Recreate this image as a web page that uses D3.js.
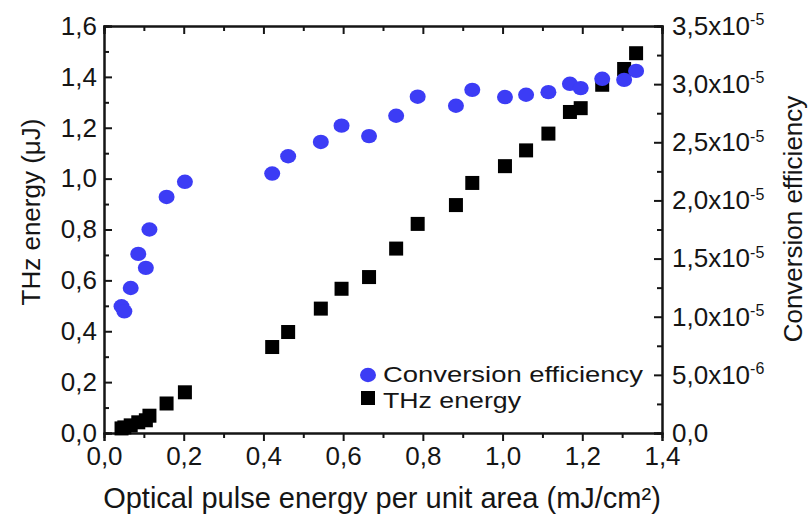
<!DOCTYPE html>
<html>
<head>
<meta charset="utf-8">
<script src="https://cdn.jsdelivr.net/npm/d3@7"></script>
<style>
  body { margin: 0; background: #fff; }
  svg text { font-family: "Liberation Sans", Arial, sans-serif; fill: #151515; }
</style>
</head>
<body>
<div id="chart"></div>
<script>
// optical pulse energy per unit area (mJ/cm2), same for both series
const pulseEnergy = [0.044, 0.051, 0.067, 0.086, 0.105, 0.114, 0.157, 0.203, 0.422, 0.462, 0.544, 0.596, 0.665,
    0.733, 0.787, 0.883, 0.924, 1.006, 1.059, 1.115, 1.169, 1.196, 1.250, 1.305, 1.335];
// THz energy (uJ)
const thzEnergy = [0.018, 0.022, 0.030, 0.042, 0.050, 0.068, 0.116, 0.160, 0.338, 0.397, 0.489, 0.567, 0.613,
    0.725, 0.822, 0.896, 0.983, 1.049, 1.111, 1.177, 1.262, 1.277, 1.369, 1.431, 1.493];
// conversion efficiency (x1e-5)
const efficiency = [1.090, 1.046, 1.247, 1.540, 1.420, 1.750, 2.030, 2.160, 2.231, 2.380, 2.503, 2.643, 2.553,
    2.728, 2.892, 2.814, 2.951, 2.889, 2.909, 2.931, 3.003, 2.966, 3.046, 3.037, 3.114].map(v => v * 1e-5);

const xTicks = [0, 0.2, 0.4, 0.6, 0.8, 1.0, 1.2, 1.4];
const yLeftTicks = [0, 0.2, 0.4, 0.6, 0.8, 1.0, 1.2, 1.4, 1.6];
const yRightTicks = [0, 0.5e-5, 1.0e-5, 1.5e-5, 2.0e-5, 2.5e-5, 3.0e-5, 3.5e-5];
const legendLabels = ["Conversion efficiency", "THz energy"];

const w = 810, h = 518;
const m = { left: 104, right: 148, top: 26, bottom: 85 };
const blue = "#3c3cf5";

const svg = d3.select("#chart").append("svg").attr("width", w).attr("height", h);

const x = d3.scaleLinear().domain([0, 1.4]).range([m.left, w - m.right]);
const yL = d3.scaleLinear().domain([0, 1.6]).range([h - m.bottom, m.top]);
const yR = d3.scaleLinear().domain([0, 3.5e-5]).range([h - m.bottom, m.top]);

const comma = d => d3.format(".1f")(d).replace(".", ",");
const minor = (a, b, step) => d3.range(a, b + step / 2, step).filter(v => Math.abs(Math.round(v / (2 * step)) * 2 * step - v) > step / 10);

const styleAxis = g => {
    g.select(".domain").attr("stroke", "#151515").attr("stroke-width", 2);
    g.selectAll(".tick line").attr("stroke", "#151515").attr("stroke-width", 2);
};

// minor ticks
svg.append("g").attr("transform", `translate(0,${h - m.bottom})`)
    .call(d3.axisBottom(x).tickValues(minor(0, 1.4, 0.1)).tickFormat("").tickSize(5)).call(styleAxis);
svg.append("g").attr("transform", `translate(0,${m.top})`)
    .call(d3.axisTop(x).tickValues(minor(0, 1.4, 0.1)).tickFormat("").tickSize(-5)).call(styleAxis);
svg.append("g").attr("transform", `translate(${m.left},0)`)
    .call(d3.axisLeft(yL).tickValues(minor(0, 1.6, 0.1)).tickFormat("").tickSize(-5)).call(styleAxis);
svg.append("g").attr("transform", `translate(${w - m.right},0)`)
    .call(d3.axisRight(yR).tickValues(minor(0, 3.5e-5, 0.25e-5)).tickFormat("").tickSize(-5)).call(styleAxis);

// major axes
svg.append("g").attr("transform", `translate(0,${h - m.bottom})`)
    .call(d3.axisBottom(x).tickValues(xTicks).tickFormat(comma).tickSize(8).tickPadding(6))
    .call(styleAxis)
    .selectAll("text").style("font-size", "26px");
svg.append("g").attr("transform", `translate(0,${m.top})`)
    .call(d3.axisTop(x).tickValues(xTicks).tickFormat("").tickSize(-8)).call(styleAxis);
svg.append("g").attr("transform", `translate(${m.left},0)`)
    .call(d3.axisLeft(yL).tickValues(yLeftTicks).tickFormat(comma).tickSize(-8).tickPadding(7))
    .call(styleAxis)
    .selectAll("text").style("font-size", "26px");

const right = svg.append("g").attr("transform", `translate(${w - m.right},0)`)
    .call(d3.axisRight(yR).tickValues(yRightTicks).tickSize(-8).tickPadding(10))
    .call(styleAxis);
right.selectAll(".tick text").style("font-size", "26px").each(function (d) {
    const t = d3.select(this).text("");
    if (d === 0) { t.text("0,0"); return; }
    const exp = Math.floor(Math.log10(d) + 1e-9);
    const mant = d / Math.pow(10, exp);
    t.append("tspan").text(comma(mant) + "x10");
    t.append("tspan").attr("dy", "-0.6em").style("font-size", "16px").text(exp);
});

// series: squares first, circles on top
const sq = 14;
svg.append("g").selectAll("rect")
    .data(pulseEnergy.map((p, i) => [p, thzEnergy[i]]))
    .join("rect")
    .attr("x", d => x(d[0]) - sq / 2)
    .attr("y", d => yL(d[1]) - sq / 2)
    .attr("width", sq).attr("height", sq)
    .attr("fill", "#000");

svg.append("g").selectAll("ellipse")
    .data(pulseEnergy.map((p, i) => [p, efficiency[i]]))
    .join("ellipse")
    .attr("cx", d => x(d[0]))
    .attr("cy", d => yR(d[1]))
    .attr("rx", 8).attr("ry", 7.2)
    .attr("fill", blue);

// legend
const lg = svg.append("g").attr("transform", "translate(368,375)");
lg.append("ellipse").attr("cx", 0).attr("cy", 0).attr("rx", 8).attr("ry", 7.2).attr("fill", blue);
lg.append("rect").attr("x", -7).attr("y", 23 - 7).attr("width", sq).attr("height", sq).attr("fill", "#000");
lg.selectAll("text").data(legendLabels).join("text")
    .attr("x", 15).attr("y", (d, i) => i === 0 ? 6.5 : 32.5)
    .attr("textLength", (d, i) => i === 0 ? 260 : 138).attr("lengthAdjust", "spacingAndGlyphs")
    .style("font-size", "22px").text(d => d);

// axis titles
svg.append("text").attr("x", 382).attr("y", 508).attr("text-anchor", "middle")
    .style("font-size", "29px").text("Optical pulse energy per unit area (mJ/cm²)");

svg.append("text").attr("transform", "translate(40,212) rotate(-90)")
    .attr("text-anchor", "middle").style("font-size", "26px").text("THz energy (μJ)");
svg.append("text").attr("transform", "translate(802,219) rotate(-90)")
    .attr("text-anchor", "middle").style("font-size", "26px").text("Conversion efficiency");
</script>
</body>
</html>
